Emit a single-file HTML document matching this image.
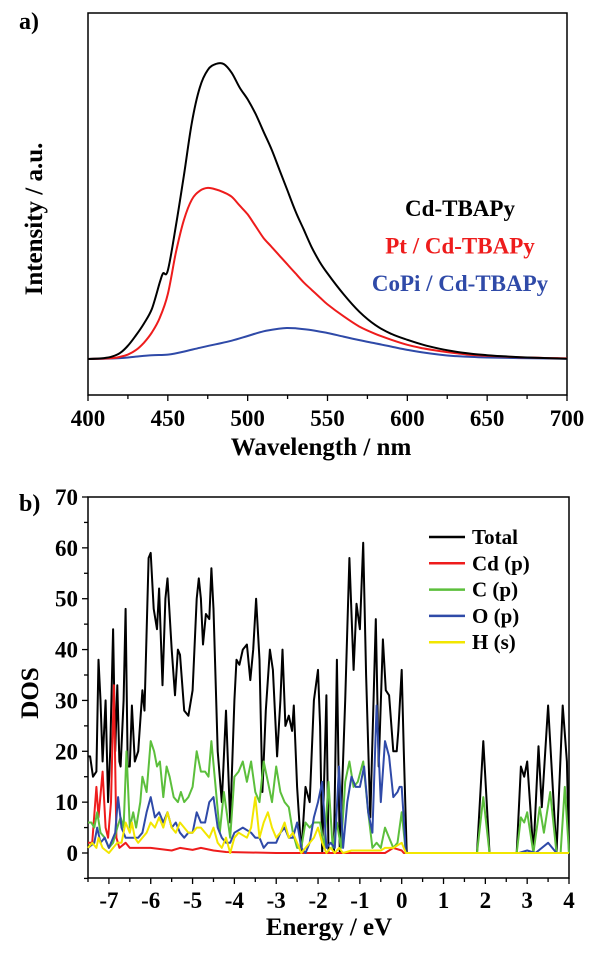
<!DOCTYPE html>
<html><head><meta charset="utf-8"><style>
body{margin:0;background:#fff;width:600px;height:955px;overflow:hidden}
svg{display:block}
text{font-family:"Liberation Serif",serif;font-weight:bold}
</style></head><body>
<svg id="fig" width="600" height="955"></svg>
<script>
// ---- Panel a data ----
const wlBlack=[400,410,415,420,425,430,435,440,445,447,450,455,460,465,470,475,480,485,490,495,500,505,510,515,520,525,530,535,540,545,550,560,570,580,590,600,610,620,630,640,650,660,680,700];
const valBlack=[0,0.3,0.8,2,4.5,8,12,17,26,29,30,45,62,80,92,98,100,100,97,92,88,83,77,71,64,57,50,44,38,33,29,22,16,11.5,8.5,6.5,4.8,3.5,2.5,1.8,1.3,0.9,0.4,0.1];
const wlRed=[400,415,420,425,430,435,440,445,450,455,460,465,470,475,480,485,490,495,500,505,510,515,520,525,530,535,540,545,550,560,570,580,590,600,610,620,630,640,650,670,700];
const valRed=[0,0.3,0.7,1.5,3,5.5,9,14,22,36,47,54,57,58,57.5,56.5,55,52,49,45,41,38,35,32,29,26,23.5,21,18.5,14.5,11,8.5,6.5,4.8,3.6,2.7,2,1.4,1.1,0.6,0.2];
const wlBlue=[400,420,430,440,450,460,470,480,490,500,510,520,525,530,540,550,560,570,580,590,600,610,620,630,640,650,670,700];
const valBlue=[0,0.3,0.8,1.3,1.5,2.5,3.8,5,6.2,7.8,9.4,10.3,10.5,10.4,9.8,8.8,7.6,6.4,5.3,4.2,3.1,2.2,1.5,1,0.7,0.5,0.3,0.1];
const xTicksA=[400,450,500,550,600,650,700];
const legendA=["Cd-TBAPy","Pt / Cd-TBAPy","CoPi / Cd-TBAPy"];
// ---- Panel b data ----
const eTotal=[-7.5,-7.45,-7.38,-7.3,-7.25,-7.2,-7.15,-7.08,-7.02,-6.97,-6.9,-6.85,-6.8,-6.75,-6.72,-6.65,-6.6,-6.55,-6.5,-6.45,-6.38,-6.3,-6.2,-6.15,-6.05,-6.0,-5.93,-5.85,-5.8,-5.72,-5.65,-5.6,-5.5,-5.42,-5.35,-5.3,-5.2,-5.1,-5.0,-4.9,-4.85,-4.8,-4.75,-4.68,-4.6,-4.55,-4.5,-4.4,-4.3,-4.2,-4.1,-4.0,-3.95,-3.88,-3.8,-3.7,-3.62,-3.55,-3.48,-3.4,-3.33,-3.25,-3.15,-3.08,-2.98,-2.9,-2.85,-2.78,-2.7,-2.62,-2.58,-2.5,-2.4,-2.3,-2.2,-2.1,-2.0,-1.95,-1.9,-1.8,-1.75,-1.62,-1.55,-1.48,-1.35,-1.25,-1.15,-1.08,-1.0,-0.92,-0.85,-0.75,-0.62,-0.55,-0.45,-0.38,-0.3,-0.2,-0.12,-0.08,0,0.05,0.12,1.8,1.95,2.1,2.75,2.85,2.93,3.0,3.15,3.27,3.35,3.5,3.7,3.85,3.95,4.0];
const dosTotal=[19,19,15,16,38,30,18,30,10,20,44,20,33,18,17,30,48,17,17,29,18,20,32,28,58,59,48,44,52,33,50,54,40,31,40,39,28,27,32,50,54,50,41,47,46,56,48,20,10,28,6,30,38,37,40,41,34,40,50,38,12,28,40,36,19,30,40,25,27,24,29,13,0,13,10,30,36,25,0,31,0,0,38,0,30,58,36,49,44,61,35,7,46,17,42,32,31,20,20,24,36,20,0,0,22,0,0,17,15,18,0,21,9,29,0,29,18,0];
const eCd=[-7.5,-7.4,-7.3,-7.25,-7.15,-7.08,-7.02,-6.95,-6.88,-6.82,-6.75,-6.6,-6.5,-6.3,-6.0,-5.5,-5.3,-5.0,-4.8,-4.5,-4.2,-3.0,-0.4,-0.2,0,0.05,4];
const dosCd=[2,2,13,7,16,5,3,10,33,3,1,2,1,1,1,0.5,1,0.6,1,0.5,0.2,0,0,1,0.5,0,0];
const eC=[-7.5,-7.42,-7.35,-7.28,-7.2,-7.1,-7.0,-6.9,-6.8,-6.72,-6.65,-6.58,-6.5,-6.42,-6.35,-6.25,-6.2,-6.1,-6.0,-5.92,-5.85,-5.78,-5.7,-5.62,-5.55,-5.45,-5.35,-5.28,-5.2,-5.1,-5.0,-4.9,-4.8,-4.7,-4.62,-4.55,-4.45,-4.35,-4.25,-4.1,-4.0,-3.9,-3.8,-3.7,-3.6,-3.5,-3.4,-3.3,-3.2,-3.1,-3.0,-2.9,-2.8,-2.7,-2.6,-2.5,-2.4,-2.3,-2.2,-2.1,-1.95,-1.85,-1.75,-1.65,-1.55,-1.45,-1.35,-1.25,-1.15,-1.05,-0.92,-0.8,-0.7,-0.6,-0.5,-0.4,-0.3,-0.2,-0.1,0,0.1,1.8,1.95,2.1,2.75,2.85,2.93,3.0,3.15,3.3,3.4,3.55,3.7,3.8,3.9,4.0];
const dosC=[6,6,5,8,4,3,1,2,5,7,5,20,5,8,5,10,15,12,22,20,17,18,11,17,15,11,10,12,10,11,13,20,16,16,15,22,13,4,12,3,15,16,18,14,18,12,10,18,14,10,17,12,10,9,4,1,1,6,5,6,6,1,14,1,6,1,14,18,13,14,18,8,1,2,1,5,3,1,2,8,0,0,11,0,0,7,6,8,0,9,4,12,0,0,13,0];
const eO=[-7.5,-7.35,-7.28,-7.2,-7.1,-7.0,-6.85,-6.78,-6.7,-6.6,-6.5,-6.4,-6.3,-6.2,-6.1,-6.0,-5.9,-5.8,-5.7,-5.6,-5.5,-5.4,-5.3,-5.2,-5.1,-5.0,-4.9,-4.8,-4.7,-4.6,-4.5,-4.4,-4.3,-4.2,-4.1,-4.0,-3.8,-3.6,-3.5,-3.4,-3.3,-3.2,-3.1,-3.0,-2.9,-2.8,-2.7,-2.6,-2.5,-2.4,-2.3,-2.2,-2.1,-2.0,-1.9,-1.8,-1.7,-1.6,-1.5,-1.4,-1.3,-1.2,-1.1,-1.0,-0.9,-0.8,-0.7,-0.6,-0.5,-0.4,-0.3,-0.2,-0.1,-0.05,0,0.1,2.8,3.0,3.2,3.5,3.7,4.0];
const dosO=[1,2,5,2,3,1,4,11,5,3,3,3,3,4,8,11,7,8,6,8,5,6,4,3,4,4,8,6,6,10,11,5,3,2,2,4,5,4,3,3,1,2,2,2,4,5,3,3,6,1,0,2,7,10,14,1,2,1,17,1,10,15,13,13,17,8,4,29,10,22,19,11,12,13,13,0,0,0.5,0,2,0,0];
const eH=[-7.5,-7.4,-7.3,-7.25,-7.15,-7.0,-6.9,-6.8,-6.7,-6.6,-6.5,-6.45,-6.38,-6.3,-6.2,-6.1,-6.0,-5.9,-5.8,-5.7,-5.6,-5.5,-5.4,-5.3,-5.2,-5.1,-5.0,-4.9,-4.8,-4.7,-4.6,-4.5,-4.4,-4.3,-4.2,-4.1,-4.0,-3.9,-3.7,-3.6,-3.5,-3.4,-3.3,-3.2,-3.1,-3.0,-2.9,-2.8,-2.7,-2.6,-2.5,-2.4,-2.3,-2.1,-2.0,-1.9,-1.8,-1.7,-1.6,-1.5,-1.4,-1.2,-0.8,-0.5,-0.4,-0.2,0,0.1,4];
const dosH=[1,2,1,3,1,0,1,2,2,6,4,6,3,2,3,4,6,5,7,5,8,5,4,6,5,4,4,5,5,4,3,5,2,1,3,0,3,4,3,5,11,3,6,8,5,3,4,6,3,4,2,0,1,3,5,2,0,1,0,1,0,0.5,0.5,0.5,1,1,2,0,0];
const xTicksB=[-7,-6,-5,-4,-3,-2,-1,0,1,2,3,4];
const yTicksB=[0,10,20,30,40,50,60,70];
const legendB=["Total","Cd (p)","C (p)","O (p)","H (s)"];

const NS="http://www.w3.org/2000/svg";
const svg=document.getElementById('fig');
function mk(tag,attrs,parent){const e=document.createElementNS(NS,tag);for(const k in attrs)e.setAttribute(k,attrs[k]);(parent||svg).appendChild(e);return e;}
const ax=v=>88+(v-400)*(567-88)/300;
const ay=v=>359-v*2.95;
const bx=v=>88+(v+7.5)*(569-88)/11.5;
const by=v=>853-v*(853-497)/70;

function line(xs,ys,fx,fy,color,name,g,w){const pts=xs.map((x,i)=>fx(x).toFixed(1)+','+fy(ys[i]).toFixed(1)).join(' ');
const p=mk('polyline',{points:pts,fill:'none',stroke:color,'stroke-width':w,'stroke-linejoin':'round'},g);
return p;}
function smooth(xs,ys,fx,fy,color,name,g,w){const P=xs.map((x,i)=>[fx(x),fy(ys[i])]);let d='M'+P[0][0].toFixed(1)+','+P[0][1].toFixed(1);
for(let i=0;i<P.length-1;i++){const p0=P[Math.max(0,i-1)],p1=P[i],p2=P[i+1],p3=P[Math.min(P.length-1,i+2)];
const c1=[p1[0]+(p2[0]-p0[0])/6,p1[1]+(p2[1]-p0[1])/6],c2=[p2[0]-(p3[0]-p1[0])/6,p2[1]-(p3[1]-p1[1])/6];
d+=' C'+c1.map(v=>v.toFixed(1)).join(',')+' '+c2.map(v=>v.toFixed(1)).join(',')+' '+p2.map(v=>v.toFixed(1)).join(',');}
const p=mk('path',{d:d,fill:'none',stroke:color,'stroke-width':w},g);
return p;}

// ---- Panel a ----
const ga=mk('g',{});


const la=mk('text',{x:19,y:29,'font-size':24},ga);la.textContent='a)';

const fa=mk('rect',{x:88,y:13,width:479,height:382,fill:'none',stroke:'#000','stroke-width':1.5},ga);

for(let v=400;v<=700;v+=25){const major=(v%50===0);const t=mk('line',{x1:ax(v),x2:ax(v),y1:395,y2:395+(major?6:4),stroke:'#000','stroke-width':1.3},ga);
}
xTicksA.forEach(v=>{const t=mk('text',{x:ax(v),y:426,'font-size':23,'text-anchor':'middle'},ga);t.textContent=v;
});
const xta=mk('text',{x:321,y:455,'font-size':25,'text-anchor':'middle'},ga);xta.textContent='Wavelength / nm';

const yta=mk('text',{x:0,y:0,'font-size':25,'text-anchor':'middle',transform:'translate(42,219) rotate(-90)'},ga);yta.textContent='Intensity / a.u.';

smooth(wlBlue,valBlue,ax,ay,'#2f4aa8','series-copi-cd-tbapy',ga,2);
smooth(wlRed,valRed,ax,ay,'#ee1c1c','series-pt-cd-tbapy',ga,2);
smooth(wlBlack,valBlack,ax,ay,'#000','series-cd-tbapy',ga,2);
const colA=['#000','#ee1c1c','#2f4aa8'];
legendA.forEach((s,i)=>{const t=mk('text',{x:460,y:216+i*37.5,'font-size':23,'text-anchor':'middle',fill:colA[i]},ga);t.textContent=s;
});

// ---- Panel b ----
const gb=mk('g',{});


const lb=mk('text',{x:19,y:511,'font-size':24},gb);lb.textContent='b)';

const fb=mk('rect',{x:88,y:497,width:481,height:381,fill:'none',stroke:'#000','stroke-width':1.5},gb);

for(let v=-7.5;v<=4.001;v+=0.5){const major=Math.abs(v-Math.round(v))<1e-6;const t=mk('line',{x1:bx(v),x2:bx(v),y1:878,y2:878+(major?6:4),stroke:'#000','stroke-width':1.3},gb);
}
for(let v=-5;v<=70;v+=5){const major=(v%10===0);const t=mk('line',{x1:88,x2:88-(major?6:4),y1:by(v),y2:by(v),stroke:'#000','stroke-width':1.3},gb);
}
xTicksB.forEach(v=>{const t=mk('text',{x:bx(v),y:908,'font-size':23,'text-anchor':'middle'},gb);t.textContent=v;
});
yTicksB.forEach(v=>{const t=mk('text',{x:78,y:by(v)+8,'font-size':23,'text-anchor':'end'},gb);t.textContent=v;
});
const xtb=mk('text',{x:329,y:935,'font-size':25,'text-anchor':'middle'},gb);xtb.textContent='Energy / eV';

const ytb=mk('text',{x:0,y:0,'font-size':25,'text-anchor':'middle',transform:'translate(38,693) rotate(-90)'},gb);ytb.textContent='DOS';

const colB=['#000','#ee1c1c','#5cbf3c','#2f4aa8','#f2e600'];
line(eTotal,dosTotal,bx,by,colB[0],'series-total',gb,2);
line(eCd,dosCd,bx,by,colB[1],'series-cd-p',gb,2);
line(eC,dosC,bx,by,colB[2],'series-c-p',gb,2);
line(eO,dosO,bx,by,colB[3],'series-o-p',gb,2);
line(eH,dosH,bx,by,colB[4],'series-h-s',gb,2);
legendB.forEach((s,i)=>{const y=537+i*26.3;
const l=mk('line',{x1:429,x2:465,y1:y,y2:y,stroke:colB[i],'stroke-width':2.5},gb);

const t=mk('text',{x:472,y:y+7,'font-size':21},gb);t.textContent=s;
});
</script>
</body></html>
